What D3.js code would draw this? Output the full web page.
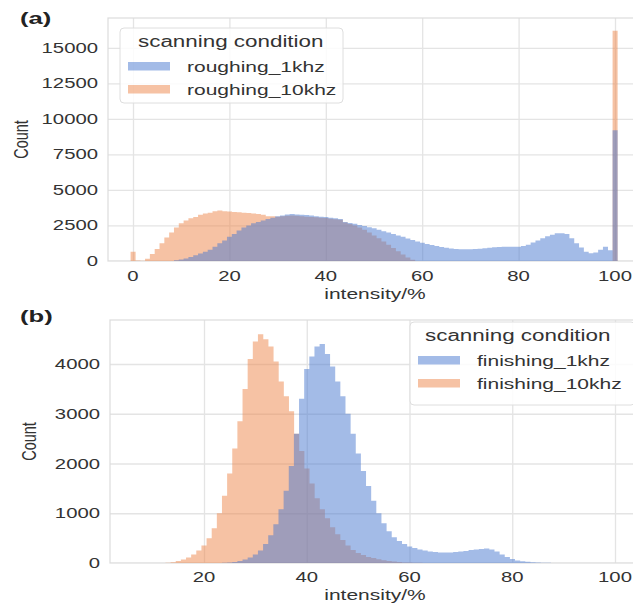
<!DOCTYPE html>
<html>
<head>
<meta charset="utf-8">
<script src="https://cdn.jsdelivr.net/npm/d3@7"></script>
<style>
  html, body { margin: 0; padding: 0; background: #fff; }
  svg { display: block; }
  text { font-family: "Liberation Sans", Arial, sans-serif; fill: #333; }
</style>
</head>
<body>
<div id="chart"></div>
<script>
// ---------------- DATA ----------------
const xTicksA = [0, 20, 40, 60, 80, 100];
const yTicksA = [0, 2500, 5000, 7500, 10000, 12500, 15000];
const xTicksB = [20, 40, 60, 80, 100];
const yTicksB = [0, 1000, 2000, 3000, 4000];

const seriesA = ["roughing_1khz", "roughing_10khz"];
const seriesB = ["finishing_1khz", "finishing_10khz"];

// panel (a): bins centred on intensity 0 .. 100 (width 1)
const binsA = d3.range(0, 101);
const roughing1khz = [
  0, 0, 0, 0, 0, 0, 0, 0, 0, 50,
  100, 180, 280, 400, 530, 650, 800, 1000, 1250, 1450,
  1700, 1900, 2150, 2350, 2500, 2650, 2750, 2850, 2950, 3050,
  3150, 3200, 3280, 3300, 3280, 3250, 3230, 3200, 3150, 3120,
  3100, 3050, 3000, 2950, 2750, 2680, 2620, 2540, 2470, 2380,
  2300, 2200, 2100, 2000, 1900, 1800, 1700, 1580, 1470, 1370,
  1280, 1200, 1120, 1050, 990, 930, 880, 850, 830, 820,
  820, 840, 870, 900, 930, 960, 990, 1000, 1000, 1000,
  1000, 1050, 1150, 1300, 1450, 1600, 1750, 1850, 1950, 1950,
  1900, 1600, 1250, 950, 650, 550, 600, 800, 1000, 750,
  9200
];
const roughing10khz = [
  650, 30, 20, 150, 500, 850, 1250, 1650, 2000, 2350,
  2650, 2850, 3000, 3100, 3250, 3350, 3400, 3500, 3550, 3500,
  3480, 3450, 3430, 3400, 3380, 3350, 3300, 3250, 3150, 3150,
  3120, 3150, 3180, 3200, 3180, 3150, 3120, 3100, 3080, 3050,
  3030, 2980, 2940, 2900, 2700, 2600, 2500, 2350, 2200, 2000,
  1800, 1600, 1380, 1150, 920, 680, 450, 240, 80, 0,
  0, 0, 0, 0, 0, 0, 0, 0, 0, 0,
  0, 0, 0, 0, 0, 0, 0, 0, 0, 0,
  0, 0, 0, 0, 0, 0, 0, 0, 0, 0,
  0, 0, 0, 0, 0, 0, 0, 0, 0, 0,
  16200
];

// panel (b): bins centred on intensity 10 .. 90 (width 1)
const binsB = d3.range(10, 91);
const finishing1khz = [
  0, 0, 0, 0, 0, 0, 0, 0, 0, 0,
  0, 0, 0, 0, 5, 10, 20, 40, 70, 110,
  170, 250, 380, 560, 780, 1080, 1450, 1950, 2600, 3300,
  3900, 4150, 4350, 4400, 4200, 3950, 3650, 3350, 3000, 2600,
  2200, 1850, 1550, 1250, 1000, 800, 640, 520, 440, 380,
  330, 300, 270, 250, 230, 220, 210, 210, 210, 220,
  230, 240, 260, 270, 280, 290, 270, 230, 170, 120,
  80, 50, 35, 25, 15, 10, 5, 3, 2, 1,
  0
];
const finishing10khz = [
  0, 0, 0, 5, 15, 40, 70, 110, 170, 250,
  350, 500, 700, 1000, 1350, 1800, 2300, 2850, 3500, 4100,
  4450, 4600, 4500, 4350, 4050, 3650, 3350, 3050, 2600, 2250,
  1900, 1600, 1300, 1080, 900, 720, 580, 460, 350, 260,
  200, 160, 120, 100, 75, 55, 40, 28, 18, 12,
  8, 5, 3, 2, 1, 0, 0, 0, 0, 0,
  0, 0, 0, 0, 0, 0, 0, 0, 0, 0,
  0, 0, 0, 0, 0, 0, 0, 0, 0, 0,
  0
];

// ---------------- DRAWING ----------------
const W = 633, H = 605;
const SX = 1.4;                    // horizontal stretch of the original figure
const BLUE = "#4878d0", ORANGE = "#ee854a", ALPHA = 0.5;

const svg = d3.select("#chart").append("svg")
  .attr("width", W).attr("height", H);

function stext(g, x, y, str, size, anchor, extra) {
  return g.append("text")
    .attr("transform", `translate(${x},${y}) scale(${SX},1)` + (extra || ""))
    .attr("font-size", size)
    .attr("text-anchor", anchor || "start")
    .text(str);
}

function panel(cfg) {
  const g = svg.append("g");
  const x = d3.scaleLinear().domain(cfg.xDom).range(cfg.xRng);
  const y = d3.scaleLinear().domain(cfg.yDom).range(cfg.yRng);
  const L = cfg.frame[0], T = cfg.frame[1], R = cfg.frame[2], B = cfg.yRng[0];

  const clip = "clip" + cfg.id;
  svg.append("clipPath").attr("id", clip).append("rect")
    .attr("x", L).attr("y", T).attr("width", R - L).attr("height", B - T);

  // grid
  const grid = g.append("g").attr("clip-path", `url(#${clip})`);
  grid.append("g").attr("transform", `translate(0,${B})`)
    .call(d3.axisBottom(x).tickValues(cfg.xTicks).tickSize(-(B - T)).tickFormat(""))
    .call(s => s.select(".domain").remove())
    .call(s => s.selectAll("line").attr("stroke", "#e4e4e4").attr("stroke-width", 1.3));
  grid.append("g").attr("transform", `translate(${L},0)`)
    .call(d3.axisLeft(y).tickValues(cfg.yTicks).tickSize(-(R - L)).tickFormat(""))
    .call(s => s.select(".domain").remove())
    .call(s => s.selectAll("line").attr("stroke", "#e4e4e4").attr("stroke-width", 1.3));

  // frame
  g.append("rect").attr("x", L).attr("y", T).attr("width", R - L).attr("height", B - T)
    .attr("fill", "none").attr("stroke", "#dcdcdc").attr("stroke-width", 1.2);

  // bars: second series (orange) below, first series (blue) on top.
  // each series is one path made of its bars, so neighbouring bars do not double the alpha
  const bars = g.append("g").attr("clip-path", `url(#${clip})`);
  [[cfg.values[1], ORANGE], [cfg.values[0], BLUE]].forEach(([vals, col]) => {
    const d = cfg.bins.map((b, i) => ({ b, v: vals[i] })).filter(e => e.v > 0)
      .map(e => {
        const x0 = x(e.b - 0.5), x1 = x(e.b + 0.5) + 0.2, y0 = y(0), y1 = y(e.v);
        return `M${x0},${y0}V${y1}H${x1}V${y0}Z`;
      }).join("");
    bars.append("path").attr("d", d)
      .attr("fill", col).attr("fill-opacity", ALPHA).attr("fill-rule", "nonzero");
  });

  // tick labels
  cfg.xTicks.forEach(v => stext(g, x(v), B + cfg.xTickDy, String(v), 14.5, "middle"));
  cfg.yTicks.forEach(v => stext(g, L - 10, y(v) + 5, String(v), 14.5, "end"));

  // axis labels
  stext(g, 375, cfg.xLabelY, "intensity/%", 15, "middle");
  stext(g, cfg.countX, (T + B) / 2, "Count", 14.5, "middle", " rotate(-90)");

  // panel letter
  g.append("text")
    .attr("transform", `translate(20,${cfg.letterY}) scale(1.6,1)`)
    .attr("font-family", "Liberation Serif, Times New Roman, serif")
    .attr("font-weight", "bold").attr("font-size", 16).style("fill", "#222")
    .text(cfg.letter);

  // legend
  const lg = g.append("g");
  const [lx, ly, lw, lh] = cfg.legendBox;
  lg.append("rect").attr("x", lx).attr("y", ly).attr("width", lw).attr("height", lh)
    .attr("rx", 4).attr("fill", "#fff").attr("fill-opacity", 0.85)
    .attr("stroke", "#dedede").attr("stroke-width", 1);
  stext(lg, cfg.titleX, ly + 19, "scanning condition", 16, "start");
  cfg.names.forEach((n, i) => {
    const cy = ly + 38 + i * 23;
    lg.append("rect").attr("x", cfg.patchX).attr("y", cy - 4).attr("width", 42).attr("height", 8.5)
      .attr("fill", i === 0 ? BLUE : ORANGE).attr("fill-opacity", ALPHA);
    stext(lg, cfg.entryX, cy + 5.5, n, 15, "start");
  });
}

panel({
  id: "a", letter: "(a)", letterY: 24,
  xDom: [0, 100], xRng: [133, 615],
  yDom: [0, 15000], yRng: [261, 47.8],
  frame: [108, 18, 650],
  xTicks: xTicksA, yTicks: yTicksA, xTickDy: 20,
  bins: binsA, values: [roughing1khz, roughing10khz], names: seriesA,
  xLabelY: 298.5, countX: 28,
  legendBox: [120, 28, 223, 75], titleX: 138, patchX: 128, entryX: 187
});

panel({
  id: "b", letter: "(b)", letterY: 322,
  xDom: [20, 100], xRng: [204, 615],
  yDom: [0, 4000], yRng: [563, 364],
  frame: [110, 320, 650],
  xTicks: xTicksB, yTicks: yTicksB, xTickDy: 19,
  bins: binsB, values: [finishing1khz, finishing10khz], names: seriesB,
  xLabelY: 599.5, countX: 36,
  legendBox: [410, 322, 225, 83], titleX: 425, patchX: 418, entryX: 477
});
</script>
</body>
</html>
